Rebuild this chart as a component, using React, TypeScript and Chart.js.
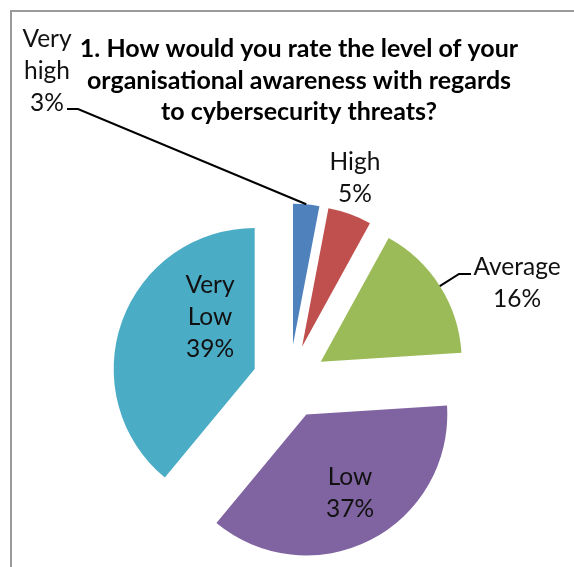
import { useEffect, useRef } from 'react';
import { Chart, registerables } from 'chart.js';

Chart.register(...registerables);

// ---- data ----
const categories = ['Very high', 'High', 'Average', 'Low', 'Very Low'];
const values = [3, 5, 16, 37, 39];
const sliceColors = ['#4F81BD', '#C0504D', '#9BBB59', '#8064A2', '#4BACC6'];
const titleLines = [
  '1. How would you rate the level of your',
  'organisational awareness with regards',
  'to cybersecurity threats?',
];

// ---- layout / style config ----
const W = 574;
const H = 567;
const PIE_RADIUS = 141;
const EXPLODE = 37;
const FONT = 'Lato, "Liberation Sans", sans-serif';
const LABEL_SIZE = 24.5;
const LABEL_LINE = 32;
const TITLE_SIZE = 25;
const TITLE_LINE = 31.5;
const TEXT_COLOR = '#111111';
// label block centres, relative to the pie centre (px)
const labelCenters: number[][] = [
  [-242.5, -310.5],
  [65.5, -203.5],
  [227.5, -98.5],
  [60.5, 111.5],
  [-79.5, -64.5],
];
// leader lines: slice index -> elbow and end, relative to the pie centre
const leaders: Record<number, { elbow: number[]; end: number[] }> = {
  0: { elbow: [-211.5, -272.5], end: [-222.5, -272.5] },
  2: { elbow: [169.5, -107.5], end: [181.5, -107.5] },
};

const framePlugin = {
  id: 'frame',
  beforeDraw(chart: any) {
    const ctx = chart.ctx;
    ctx.save();
    ctx.fillStyle = '#ffffff';
    ctx.fillRect(0, 0, chart.width, chart.height);
    ctx.strokeStyle = '#9a9a9a';
    ctx.lineWidth = 2;
    ctx.beginPath();
    ctx.moveTo(11, chart.height + 5);
    ctx.lineTo(11, 11);
    ctx.lineTo(chart.width + 5, 11);
    ctx.stroke();
    ctx.restore();
  },
};

const explodePlugin = {
  id: 'explode',
  afterDatasetsUpdate(chart: any) {
    const meta = chart.getDatasetMeta(0);
    meta.data.forEach((arc: any) => {
      const mid = (arc.startAngle + arc.endAngle) / 2;
      arc.x += Math.cos(mid) * EXPLODE;
      arc.y += Math.sin(mid) * EXPLODE;
    });
  },
};

const labelPlugin = {
  id: 'sliceLabels',
  afterDraw(chart: any) {
    const ctx = chart.ctx;
    const area = chart.chartArea;
    const cx = (area.left + area.right) / 2;
    const cy = (area.top + area.bottom) / 2;
    const meta = chart.getDatasetMeta(0);
    ctx.save();

    // title
    ctx.fillStyle = '#000000';
    ctx.textAlign = 'center';
    ctx.textBaseline = 'alphabetic';
    ctx.font = `bold ${TITLE_SIZE}px ${FONT}`;
    titleLines.forEach((t, i) => {
      ctx.fillText(t, 299, 57 + i * TITLE_LINE);
    });

    // leader lines
    ctx.strokeStyle = '#000000';
    ctx.lineWidth = 2;
    Object.keys(leaders).forEach((k) => {
      const i = Number(k);
      const arc = meta.data[i];
      const mid = (arc.startAngle + arc.endAngle) / 2;
      const sx = arc.x + Math.cos(mid) * arc.outerRadius;
      const sy = arc.y + Math.sin(mid) * arc.outerRadius;
      const { elbow, end } = leaders[i];
      ctx.beginPath();
      ctx.moveTo(sx, sy);
      ctx.lineTo(cx + elbow[0], cy + elbow[1]);
      ctx.lineTo(cx + end[0], cy + end[1]);
      ctx.stroke();
    });

    // labels
    ctx.fillStyle = TEXT_COLOR;
    ctx.font = `${LABEL_SIZE}px ${FONT}`;
    const capH = LABEL_SIZE * 0.68;
    categories.forEach((name, i) => {
      const lines = [...name.split(' '), `${values[i]}%`];
      const [dx, dy] = labelCenters[i];
      const x = cx + dx;
      const yMid = cy + dy;
      lines.forEach((ln, j) => {
        const base = yMid + (j - (lines.length - 1) / 2) * LABEL_LINE + capH / 2;
        ctx.fillText(ln, x, base);
      });
    });
    ctx.restore();
  },
};

export default function App() {
  const ref = useRef<HTMLCanvasElement | null>(null);
  useEffect(() => {
    if (!ref.current) return;
    const chart = new Chart(ref.current, {
      type: 'pie',
      data: {
        labels: categories,
        datasets: [
          {
            data: values,
            backgroundColor: sliceColors,
            borderWidth: 0,
            radius: PIE_RADIUS,
          } as any,
        ],
      },
      options: {
        responsive: false,
        animation: false,
        events: [],
        radius: PIE_RADIUS,
        layout: { padding: { left: 5, right: 0, top: 196, bottom: 0 } },
        plugins: {
          legend: { display: false },
          tooltip: { enabled: false },
          title: { display: false },
        },
      } as any,
      plugins: [framePlugin, explodePlugin, labelPlugin],
    });
    return () => chart.destroy();
  }, []);
  return (
    <canvas
      ref={ref}
      width={W}
      height={H}
      style={{ position: 'absolute', left: 0, top: 0, display: 'block' }}
    />
  );
}
